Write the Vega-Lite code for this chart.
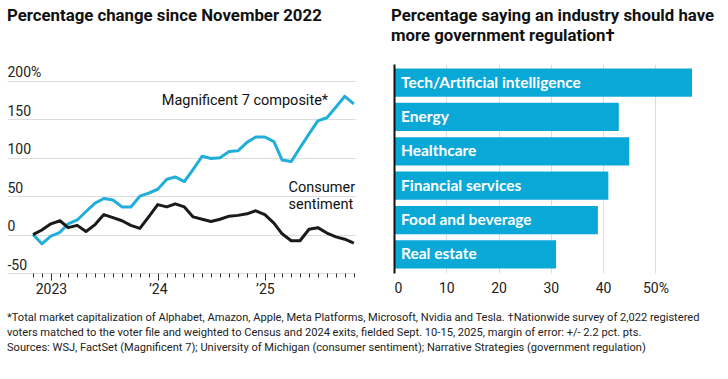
{
  "$schema": "https://vega.github.io/schema/vega-lite/v6.json",
  "padding": {"left": 7, "top": 8, "right": 0, "bottom": 0},
  "background": "white",
  "spacing": 35,
  "title": {
    "text": [
      "*Total market capitalization of Alphabet, Amazon, Apple, Meta Platforms, Microsoft, Nvidia and Tesla.   †Nationwide survey of 2,022 registered",
      "voters matched to the voter file and weighted to Census and 2024 exits, fielded Sept. 10-15, 2025, margin of error: +/- 2.2 pct. pts.",
      "Sources: WSJ, FactSet (Magnificent 7); University of Michigan (consumer sentiment); Narrative Strategies (government regulation)"
    ],
    "orient": "bottom",
    "anchor": "start",
    "frame": "bounds",
    "font": "Roboto",
    "fontSize": 11.1,
    "fontWeight": "normal",
    "color": "#222",
    "lineHeight": 15,
    "offset": 16
  },
  "config": {
    "view": {"stroke": null},
    "font": "Roboto",
    "axis": {"labelFont": "Roboto", "labelFontSize": 14, "labelColor": "#222"}
  },
  "hconcat": [
    {
      "width": 348,
      "height": 209,
      "title": {
        "text": "Percentage change since November 2022",
        "anchor": "start",
        "font": "Roboto",
        "fontSize": 16.8,
        "fontWeight": "bold",
        "color": "#111",
        "offset": 39
      },
      "resolve": {"axis": {"y": "independent", "x": "independent"}},
      "layer": [
        {
          "mark": {"type": "rect", "color": "#ebebeb"},
          "encoding": {
            "x": {
              "datum": {"year": 2022, "month": 8, "date": 4, "utc": true},
              "type": "temporal",
              "axis": {
                "orient": "bottom",
                "title": null,
                "domain": false,
                "grid": false,
                "values": [
                  {"year": 2023, "month": 1, "date": 1, "utc": true},
                  {"year": 2024, "month": 1, "date": 1, "utc": true},
                  {"year": 2025, "month": 1, "date": 1, "utc": true}
                ],
                "labelExpr": "utcyear(datum.value) == 2023 ? '2023' : '’' + substring(toString(utcyear(datum.value)), 2, 4)",
                "labelOverlap": false,
                "labelBound": false,
                "labelFlush": false,
                "tickColor": "#333",
                "tickSize": 7,
                "labelPadding": 2
              }
            },
            "x2": {"datum": {"year": 2025, "month": 11, "date": 5, "utc": true}},
            "y": {
              "datum": 0,
              "type": "quantitative",
              "scale": {"domain": [-50, 222], "nice": false},
              "axis": {"orient": "left", "title": null, "values": [-50, 0, 50, 100, 150, 200], "labels": false, "ticks": false, "domain": false, "grid": true, "gridColor": "#dcdcdc", "gridWidth": 1}
            },
            "y2": {"datum": -50}
          }
        },
        {
          "mark": {"type": "rect", "color": "white"},
          "encoding": {
            "x": {"datum": {"year": 2025, "month": 2, "date": 20, "utc": true}, "type": "temporal", "axis": null},
            "x2": {"datum": {"year": 2025, "month": 11, "date": 5, "utc": true}},
            "y": {"datum": 42, "type": "quantitative", "axis": null},
            "y2": {"datum": 58}
          }
        },
        {
          "mark": {"type": "rule", "color": "#111", "strokeWidth": 2},
          "encoding": {
            "x": {"datum": {"year": 2022, "month": 8, "date": 4, "utc": true}, "type": "temporal", "axis": null},
            "x2": {"datum": {"year": 2025, "month": 11, "date": 5, "utc": true}},
            "y": {"datum": 0, "type": "quantitative", "axis": null}
          }
        },
        {
          "data": {
            "values": [
              {"date": "2022-11-01", "series": "Magnificent 7 composite", "value": 0},
              {"date": "2022-12-01", "series": "Magnificent 7 composite", "value": -12},
              {"date": "2023-01-01", "series": "Magnificent 7 composite", "value": -2},
              {"date": "2023-02-01", "series": "Magnificent 7 composite", "value": 3},
              {"date": "2023-03-01", "series": "Magnificent 7 composite", "value": 14},
              {"date": "2023-04-01", "series": "Magnificent 7 composite", "value": 19},
              {"date": "2023-05-01", "series": "Magnificent 7 composite", "value": 30},
              {"date": "2023-06-01", "series": "Magnificent 7 composite", "value": 41},
              {"date": "2023-07-01", "series": "Magnificent 7 composite", "value": 47},
              {"date": "2023-08-01", "series": "Magnificent 7 composite", "value": 45},
              {"date": "2023-09-01", "series": "Magnificent 7 composite", "value": 36},
              {"date": "2023-10-01", "series": "Magnificent 7 composite", "value": 36},
              {"date": "2023-11-01", "series": "Magnificent 7 composite", "value": 50},
              {"date": "2023-12-01", "series": "Magnificent 7 composite", "value": 54},
              {"date": "2024-01-01", "series": "Magnificent 7 composite", "value": 59},
              {"date": "2024-02-01", "series": "Magnificent 7 composite", "value": 72},
              {"date": "2024-03-01", "series": "Magnificent 7 composite", "value": 75},
              {"date": "2024-04-01", "series": "Magnificent 7 composite", "value": 69},
              {"date": "2024-05-01", "series": "Magnificent 7 composite", "value": 85},
              {"date": "2024-06-01", "series": "Magnificent 7 composite", "value": 102},
              {"date": "2024-07-01", "series": "Magnificent 7 composite", "value": 99},
              {"date": "2024-08-01", "series": "Magnificent 7 composite", "value": 100},
              {"date": "2024-09-01", "series": "Magnificent 7 composite", "value": 108},
              {"date": "2024-10-01", "series": "Magnificent 7 composite", "value": 109},
              {"date": "2024-11-01", "series": "Magnificent 7 composite", "value": 120},
              {"date": "2024-12-01", "series": "Magnificent 7 composite", "value": 127},
              {"date": "2025-01-01", "series": "Magnificent 7 composite", "value": 127},
              {"date": "2025-02-01", "series": "Magnificent 7 composite", "value": 121},
              {"date": "2025-03-01", "series": "Magnificent 7 composite", "value": 97},
              {"date": "2025-04-01", "series": "Magnificent 7 composite", "value": 95},
              {"date": "2025-05-01", "series": "Magnificent 7 composite", "value": 113},
              {"date": "2025-06-01", "series": "Magnificent 7 composite", "value": 131},
              {"date": "2025-07-01", "series": "Magnificent 7 composite", "value": 148},
              {"date": "2025-08-01", "series": "Magnificent 7 composite", "value": 152},
              {"date": "2025-09-01", "series": "Magnificent 7 composite", "value": 166},
              {"date": "2025-10-01", "series": "Magnificent 7 composite", "value": 180},
              {"date": "2025-11-01", "series": "Magnificent 7 composite", "value": 170},
              {"date": "2022-11-01", "series": "Consumer sentiment", "value": 0},
              {"date": "2022-12-01", "series": "Consumer sentiment", "value": 6},
              {"date": "2023-01-01", "series": "Consumer sentiment", "value": 14},
              {"date": "2023-02-01", "series": "Consumer sentiment", "value": 18},
              {"date": "2023-03-01", "series": "Consumer sentiment", "value": 9},
              {"date": "2023-04-01", "series": "Consumer sentiment", "value": 12},
              {"date": "2023-05-01", "series": "Consumer sentiment", "value": 4},
              {"date": "2023-06-01", "series": "Consumer sentiment", "value": 13},
              {"date": "2023-07-01", "series": "Consumer sentiment", "value": 26},
              {"date": "2023-08-01", "series": "Consumer sentiment", "value": 22},
              {"date": "2023-09-01", "series": "Consumer sentiment", "value": 18},
              {"date": "2023-10-01", "series": "Consumer sentiment", "value": 12},
              {"date": "2023-11-01", "series": "Consumer sentiment", "value": 8},
              {"date": "2023-12-01", "series": "Consumer sentiment", "value": 23},
              {"date": "2024-01-01", "series": "Consumer sentiment", "value": 39},
              {"date": "2024-02-01", "series": "Consumer sentiment", "value": 36},
              {"date": "2024-03-01", "series": "Consumer sentiment", "value": 40},
              {"date": "2024-04-01", "series": "Consumer sentiment", "value": 36},
              {"date": "2024-05-01", "series": "Consumer sentiment", "value": 23},
              {"date": "2024-06-01", "series": "Consumer sentiment", "value": 20},
              {"date": "2024-07-01", "series": "Consumer sentiment", "value": 17},
              {"date": "2024-08-01", "series": "Consumer sentiment", "value": 20},
              {"date": "2024-09-01", "series": "Consumer sentiment", "value": 24},
              {"date": "2024-10-01", "series": "Consumer sentiment", "value": 25},
              {"date": "2024-11-01", "series": "Consumer sentiment", "value": 27},
              {"date": "2024-12-01", "series": "Consumer sentiment", "value": 31},
              {"date": "2025-01-01", "series": "Consumer sentiment", "value": 26},
              {"date": "2025-02-01", "series": "Consumer sentiment", "value": 15},
              {"date": "2025-03-01", "series": "Consumer sentiment", "value": 1},
              {"date": "2025-04-01", "series": "Consumer sentiment", "value": -8},
              {"date": "2025-05-01", "series": "Consumer sentiment", "value": -8},
              {"date": "2025-06-01", "series": "Consumer sentiment", "value": 7},
              {"date": "2025-07-01", "series": "Consumer sentiment", "value": 9},
              {"date": "2025-08-01", "series": "Consumer sentiment", "value": 2},
              {"date": "2025-09-01", "series": "Consumer sentiment", "value": -3},
              {"date": "2025-10-01", "series": "Consumer sentiment", "value": -6},
              {"date": "2025-11-01", "series": "Consumer sentiment", "value": -11}
            ]
          },
          "mark": {"type": "line", "strokeWidth": 3, "strokeJoin": "round"},
          "encoding": {
            "x": {
              "field": "date",
              "type": "temporal",
              "scale": {"type": "utc", "domain": [{"year": 2022, "month": 8, "date": 4, "utc": true}, {"year": 2025, "month": 11, "date": 5, "utc": true}]},
              "axis": {
                "orient": "bottom",
                "title": null,
                "domain": false,
                "grid": false,
                "labels": false,
                "values": [
                  {"year": 2022, "month": 11, "date": 1, "utc": true},
                  {"year": 2022, "month": 12, "date": 1, "utc": true},
                  {"year": 2023, "month": 2, "date": 1, "utc": true},
                  {"year": 2023, "month": 3, "date": 1, "utc": true},
                  {"year": 2023, "month": 4, "date": 1, "utc": true},
                  {"year": 2023, "month": 5, "date": 1, "utc": true},
                  {"year": 2023, "month": 6, "date": 1, "utc": true},
                  {"year": 2023, "month": 7, "date": 1, "utc": true},
                  {"year": 2023, "month": 8, "date": 1, "utc": true},
                  {"year": 2023, "month": 9, "date": 1, "utc": true},
                  {"year": 2023, "month": 10, "date": 1, "utc": true},
                  {"year": 2023, "month": 11, "date": 1, "utc": true},
                  {"year": 2023, "month": 12, "date": 1, "utc": true},
                  {"year": 2024, "month": 2, "date": 1, "utc": true},
                  {"year": 2024, "month": 3, "date": 1, "utc": true},
                  {"year": 2024, "month": 4, "date": 1, "utc": true},
                  {"year": 2024, "month": 5, "date": 1, "utc": true},
                  {"year": 2024, "month": 6, "date": 1, "utc": true},
                  {"year": 2024, "month": 7, "date": 1, "utc": true},
                  {"year": 2024, "month": 8, "date": 1, "utc": true},
                  {"year": 2024, "month": 9, "date": 1, "utc": true},
                  {"year": 2024, "month": 10, "date": 1, "utc": true},
                  {"year": 2024, "month": 11, "date": 1, "utc": true},
                  {"year": 2024, "month": 12, "date": 1, "utc": true},
                  {"year": 2025, "month": 2, "date": 1, "utc": true},
                  {"year": 2025, "month": 3, "date": 1, "utc": true},
                  {"year": 2025, "month": 4, "date": 1, "utc": true},
                  {"year": 2025, "month": 5, "date": 1, "utc": true},
                  {"year": 2025, "month": 6, "date": 1, "utc": true},
                  {"year": 2025, "month": 7, "date": 1, "utc": true},
                  {"year": 2025, "month": 8, "date": 1, "utc": true},
                  {"year": 2025, "month": 9, "date": 1, "utc": true},
                  {"year": 2025, "month": 10, "date": 1, "utc": true},
                  {"year": 2025, "month": 11, "date": 1, "utc": true}
                ],
                "tickColor": "#333",
                "tickSize": 4
              }
            },
            "y": {
              "field": "value",
              "type": "quantitative",
              "axis": {
                "orient": "left",
                "title": null,
                "values": [-50, 0, 50, 100, 150, 200],
                "labelExpr": "datum.value == 200 ? '200%' : (datum.value < 0 ? '-' + abs(datum.value) : datum.label)",
                "labelAlign": "left",
                "labelBaseline": "alphabetic",
                "labelPadding": 0,
                "labelOffset": -4,
                "ticks": false,
                "tickSize": 0,
                "domain": false,
                "grid": false,
                "zindex": 1
              }
            },
            "color": {
              "field": "series",
              "type": "nominal",
              "scale": {"domain": ["Magnificent 7 composite", "Consumer sentiment"], "range": ["#22aedb", "#1a1a1a"]},
              "legend": null
            }
          }
        },
        {
          "data": {"values": [{"label": "Magnificent 7 composite*", "value": 174}]},
          "mark": {"type": "text", "align": "right", "baseline": "middle", "fontSize": 14.5, "color": "#111"},
          "encoding": {
            "x": {"datum": {"year": 2025, "month": 8, "date": 5, "utc": true}, "type": "temporal", "axis": null},
            "y": {"field": "value", "type": "quantitative", "axis": null},
            "text": {"field": "label"}
          }
        },
        {
          "data": {"values": [{"label": "Consumer", "value": 60}, {"label": "sentiment", "value": 38}]},
          "mark": {"type": "text", "align": "left", "baseline": "middle", "fontSize": 14.5, "color": "#111"},
          "encoding": {
            "x": {"datum": {"year": 2025, "month": 3, "date": 23, "utc": true}, "type": "temporal", "axis": null},
            "y": {"field": "value", "type": "quantitative", "axis": null},
            "text": {"field": "label"}
          }
        }
      ]
    },
    {
      "width": 298,
      "height": 209,
      "title": {
        "text": ["Percentage saying an industry should have", "more government regulation†"],
        "anchor": "start",
        "dx": -3,
        "font": "Roboto",
        "fontSize": 16.8,
        "fontWeight": "bold",
        "color": "#111",
        "lineHeight": 20,
        "offset": 19
      },
      "data": {
        "values": [
          {"industry": "Tech/Artificial intelligence", "pct": 57},
          {"industry": "Energy", "pct": 43},
          {"industry": "Healthcare", "pct": 45},
          {"industry": "Financial services", "pct": 41},
          {"industry": "Food and beverage", "pct": 39},
          {"industry": "Real estate", "pct": 31}
        ]
      },
      "layer": [
        {
          "mark": {"type": "bar", "color": "#0aa8d6"},
          "encoding": {
            "y": {
              "field": "industry",
              "type": "nominal",
              "sort": null,
              "scale": {"paddingInner": 0.176, "paddingOuter": 0.13},
              "axis": {"title": null, "labels": false, "ticks": false, "grid": false, "domainColor": "#111", "domainWidth": 2, "zindex": 1}
            },
            "x": {
              "field": "pct",
              "type": "quantitative",
              "scale": {"domain": [0, 57], "nice": false},
              "axis": {
                "title": null,
                "values": [0, 10, 20, 30, 40, 50],
                "labelExpr": "datum.value == 50 ? '50%' : datum.label",
                "domain": false,
                "ticks": false,
                "grid": true,
                "gridColor": "#dcdcdc",
                "labelPadding": 8
              }
            }
          }
        },
        {
          "mark": {"type": "text", "align": "left", "baseline": "middle", "dx": 7, "font": "Lato", "fontSize": 15.5, "fontWeight": "bold", "color": "white"},
          "encoding": {
            "y": {"field": "industry", "type": "nominal", "sort": null},
            "x": {"datum": 0, "type": "quantitative"},
            "text": {"field": "industry"}
          }
        }
      ]
    }
  ]
}
